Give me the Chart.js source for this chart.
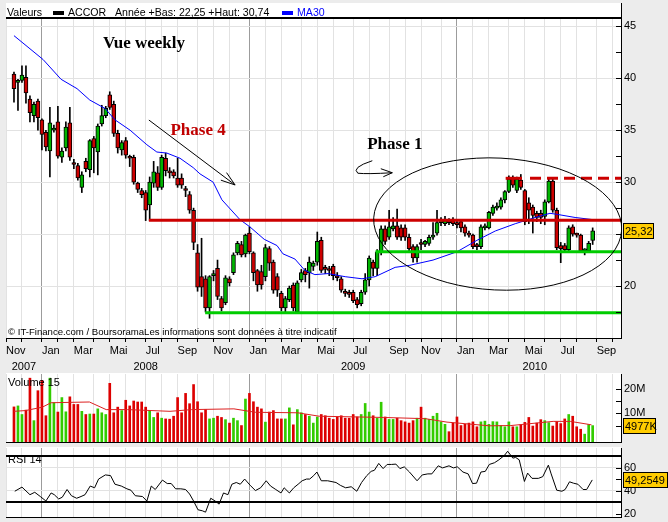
<!DOCTYPE html>
<html lang="fr">
<head>
<meta charset="utf-8">
<title>ACCOR weekly</title>
<script src="https://cdn.jsdelivr.net/npm/chart.js@4.4.1/dist/chart.umd.min.js"></script>
<style>
  html, body { margin: 0; padding: 0; }
  body { width: 668px; height: 522px; background: #ececec; position: relative; overflow: hidden; }
  canvas { position: absolute; left: 0; }
</style>
</head>
<body>
<canvas id="chart-price" width="668" height="372" style="top:0"></canvas>
<canvas id="chart-volume" width="668" height="72" style="top:372px"></canvas>
<canvas id="chart-rsi" width="668" height="78" style="top:444px"></canvas>
<script>
// weekly candles, the first one is the week of 19 Nov 2007
const firstWeek = [2007, 10, 19];

const opens = [
  40.4, 39.6, 39.8, 40.1, 38.0, 36.4, 37.8, 36.0, 34.8, 33.0,
  35.0, 35.8, 32.4, 33.3, 35.7, 31.8, 31.6, 29.5, 32.0, 31.2,
  34.2, 32.9, 35.6, 36.4, 38.4, 37.5, 34.7, 33.1, 34.0, 32.4,
  32.4, 29.9, 29.2, 29.0, 27.8, 29.9, 30.9, 29.5, 32.3, 31.0,
  31.0, 30.4, 30.4, 29.3, 28.8, 27.3, 23.2, 20.9, 20.7, 17.9,
  21.0, 21.7, 18.8, 18.4, 20.7, 21.3, 23.2, 24.0, 23.1, 25.1,
  23.2, 21.5, 21.4, 20.9, 23.6, 22.3, 20.9, 19.3, 17.9, 18.7,
  20.1, 17.5, 20.6, 21.5, 21.3, 21.9, 22.3, 24.4, 21.8, 21.6,
  21.9, 20.9, 20.7, 19.5, 19.3, 19.4, 18.7, 18.3, 19.4, 20.6,
  22.3, 21.7, 23.3, 25.5, 24.7, 25.5, 25.8, 25.6, 25.6, 24.7,
  23.8, 22.7, 24.1, 24.0, 24.1, 24.7, 25.1, 26.1, 26.0, 26.2,
  26.3, 26.1, 26.2, 25.7, 25.1, 24.9, 23.9, 23.8, 25.6, 25.6,
  27.0, 27.5, 27.6, 28.3, 29.1, 30.4, 29.2, 30.2, 29.2, 28.0,
  27.6, 27.0, 27.0, 26.7, 28.1, 30.1, 27.3, 23.9, 23.9, 23.5,
  25.7, 25.0, 24.9, 23.4, 23.4, 24.4
];
const highs = [
  40.6, 39.9, 41.2, 41.2, 38.3, 37.7, 38.0, 36.1, 35.0, 37.2,
  35.5, 37.3, 33.3, 35.8, 37.2, 32.2, 31.8, 31.0, 32.3, 34.1,
  34.4, 35.6, 37.4, 37.3, 38.7, 37.8, 35.0, 34.0, 34.3, 32.6,
  32.6, 30.0, 29.4, 29.2, 30.5, 32.0, 31.5, 32.6, 32.8, 31.4,
  31.2, 32.3, 30.8, 29.6, 29.1, 27.5, 24.0, 24.6, 21.0, 21.0,
  21.5, 22.5, 19.0, 21.0, 20.9, 23.2, 24.3, 24.3, 25.0, 25.7,
  23.3, 21.6, 22.0, 24.0, 23.8, 22.5, 21.2, 19.5, 19.0, 20.0,
  20.3, 20.5, 21.6, 21.7, 22.8, 22.4, 25.2, 24.7, 22.0, 21.9,
  22.1, 21.3, 20.9, 19.7, 19.6, 19.6, 18.9, 19.6, 21.2, 22.9,
  22.5, 23.5, 25.8, 25.8, 27.3, 26.6, 27.4, 25.9, 25.9, 25.0,
  24.0, 24.0, 24.5, 24.4, 24.9, 26.1, 27.3, 26.6, 26.7, 26.5,
  26.6, 26.3, 26.4, 25.9, 25.3, 25.0, 24.1, 25.9, 26.0, 27.2,
  27.8, 28.0, 28.5, 29.2, 30.6, 30.6, 30.5, 30.74, 29.3, 28.5,
  27.8, 27.2, 27.3, 28.3, 30.3, 30.4, 27.5, 24.2, 24.1, 25.8,
  25.9, 25.1, 25.0, 23.6, 24.3, 25.6
];
const lows = [
  37.7, 36.9, 39.6, 37.6, 35.8, 35.8, 35.0, 33.1, 33.0, 30.5,
  34.8, 32.3, 31.9, 33.0, 32.1, 31.3, 30.2, 29.0, 31.0, 30.5,
  30.9, 30.7, 35.4, 36.2, 37.0, 34.4, 32.8, 32.6, 32.3, 31.5,
  29.8, 29.0, 28.5, 26.3, 26.3, 29.5, 29.2, 29.3, 30.6, 30.4,
  30.4, 29.5, 29.4, 28.6, 27.0, 23.5, 19.5, 19.0, 17.5, 16.9,
  20.5, 18.7, 17.6, 18.2, 20.0, 21.1, 23.0, 22.8, 22.8, 23.1,
  20.5, 19.5, 19.7, 20.5, 21.5, 19.3, 19.0, 17.6, 17.5, 18.5,
  17.6, 17.4, 20.4, 20.4, 19.8, 21.5, 22.0, 21.3, 21.2, 21.0,
  20.6, 20.5, 19.4, 19.0, 18.9, 18.4, 17.9, 18.1, 19.2, 20.0,
  21.0, 21.0, 23.0, 24.0, 24.5, 25.3, 24.5, 24.4, 24.4, 23.4,
  22.3, 22.3, 23.5, 23.8, 23.9, 24.5, 24.9, 25.8, 25.8, 25.9,
  25.8, 25.6, 25.2, 24.8, 24.7, 23.6, 23.5, 23.6, 25.4, 25.5,
  26.8, 27.3, 27.4, 28.0, 29.0, 29.5, 29.0, 29.3, 25.9, 26.0,
  25.1, 26.2, 26.0, 25.9, 28.0, 27.1, 23.5, 22.25, 23.3, 23.3,
  24.8, 24.7, 23.3, 23.0, 23.3, 24.0
];
const closes = [
  39.0, 39.7, 40.3, 38.6, 36.7, 37.5, 36.2, 34.6, 33.4, 35.7,
  35.2, 32.5, 33.0, 35.3, 32.4, 31.7, 30.4, 30.7, 31.3, 34.0,
  33.3, 35.4, 36.4, 37.1, 37.2, 34.7, 33.3, 33.8, 32.6, 32.3,
  30.0, 29.3, 28.8, 27.3, 30.0, 31.0, 29.5, 32.4, 31.1, 30.9,
  30.6, 29.7, 29.7, 29.2, 27.3, 24.2, 19.9, 19.9, 17.9, 20.9,
  21.2, 19.0, 17.9, 20.8, 20.3, 23.0, 24.1, 23.0, 24.9, 23.3,
  21.3, 20.1, 20.1, 23.7, 22.2, 19.6, 19.6, 17.9, 18.8, 19.8,
  17.9, 20.3, 21.3, 21.1, 22.3, 22.2, 24.3, 21.5, 21.6, 21.5,
  21.0, 20.8, 19.6, 19.3, 19.2, 18.6, 18.2, 19.4, 20.6, 22.7,
  21.7, 23.3, 25.5, 24.3, 25.7, 25.8, 24.7, 24.7, 24.7, 23.6,
  22.7, 23.8, 24.0, 24.3, 24.7, 24.9, 26.1, 26.3, 26.3, 26.1,
  26.0, 25.9, 25.6, 25.1, 24.9, 23.8, 23.8, 25.7, 25.8, 27.1,
  27.6, 27.7, 28.3, 29.1, 30.3, 29.7, 30.3, 29.5, 26.2, 27.3,
  26.8, 26.6, 26.6, 28.1, 30.1, 27.3, 23.7, 23.6, 23.5, 25.6,
  25.0, 24.9, 23.4, 23.4, 24.1, 25.32
];
// weekly volume, millions of shares
const volumes = [
  12.6, 13.0, 9.5, 11.3, 24.3, 7.0, 19.2, 23.4, 9.0, 24.3,
  14.3, 10.5, 16.4, 10.6, 16.7, 13.6, 13.6, 10.8, 9.5, 9.7,
  9.7, 11.8, 10.2, 9.5, 22.2, 10.2, 12.5, 11.1, 15.3, 13.0,
  15.0, 14.6, 14.6, 12.5, 11.1, 8.3, 10.2, 8.0, 7.7, 7.6,
  8.8, 16.4, 10.2, 18.1, 13.9, 21.7, 14.7, 10.2, 11.5, 7.7,
  8.0, 8.8, 8.3, 7.4, 6.0, 8.0, 7.0, 5.0, 15.8, 18.1,
  14.7, 12.5, 11.8, 6.4, 10.5, 11.1, 7.7, 7.7, 7.7, 12.2,
  5.3, 11.5, 10.2, 9.5, 8.8, 6.0, 8.5, 9.5, 9.0, 8.0,
  7.5, 8.5, 9.0, 8.0, 8.0, 9.5, 8.5, 9.5, 14.0, 10.5,
  9.0, 8.0, 14.5, 8.5, 7.5, 7.5, 8.0, 7.0, 6.5, 6.0,
  7.0, 8.0, 12.5, 8.0, 7.5, 8.8, 10.0, 6.5, 5.5, 2.5,
  6.0, 8.5, 5.0, 5.5, 6.0, 6.5, 4.5, 6.5, 6.8, 5.5,
  6.6, 6.5, 5.0, 4.5, 6.5, 4.5, 4.5, 5.3, 6.3, 8.3,
  4.8, 6.0, 7.4, 7.0, 6.2, 4.8, 6.6, 5.8, 7.7, 9.5,
  8.8, 4.5, 3.5, 1.5, 5.4, 4.977
];
// [week, value]
const ma30 = [
  [0, 44.1], [7.3, 41.8], [11.8, 39.9], [15.8, 39.0], [19.0, 37.9], [22.8, 37.1],
  [25.3, 36.0], [29.1, 35.0], [33.3, 33.6], [35.8, 32.9], [38.3, 32.8], [41.6, 32.3],
  [44.9, 31.4], [46.6, 30.8], [49.9, 30.0], [52.1, 28.3], [56.6, 26.4], [59.1, 25.7],
  [62.7, 24.5], [65.9, 23.9], [67.4, 23.1], [70.4, 22.6], [72.9, 21.5], [75.4, 21.1],
  [78.7, 21.2], [83.0, 20.9], [87.2, 20.7], [90.5, 20.9], [95.5, 21.8], [99.2, 22.0],
  [105.0, 22.5], [111.0, 23.3], [116.0, 24.4], [120.6, 25.3], [125.6, 26.0], [130.6, 26.6],
  [134.3, 27.0], [136.1, 26.9], [140.6, 26.6], [144.9, 26.4]
];
// [week, value] (15)
const volMa15 = [
  [0, 10.8], [2.9, 11.1], [7.1, 12.5], [9.3, 14.3], [18.9, 14.6], [23.1, 11.5],
  [28.5, 11.5], [39.1, 10.8], [44.5, 11.5], [55.1, 11.8], [60.5, 10.4], [71.1, 10.2],
  [76.5, 8.8], [92.5, 8.3], [103.1, 7.8], [108.5, 6.4], [119.1, 4.9], [124.5, 5.0],
  [135.1, 6.7], [139.4, 6.7], [144.7, 5.3]
];
// [week, value]
const rsi14 = [
  [0.2, 39.4], [2.0, 43.0], [4.0, 36.4], [5.2, 38.5], [6.6, 34.8], [8.0, 30.9], [9.3, 37.9],
  [10.1, 36.4], [11.2, 32.7], [12.1, 34.2], [13.3, 40.9], [14.4, 35.5], [15.7, 33.3],
  [16.8, 34.8], [17.8, 36.4], [19.1, 43.9], [20.2, 42.4], [21.2, 50.0], [22.9, 53.6],
  [24.2, 53.0], [25.3, 45.5], [26.9, 43.9], [28.3, 41.5], [29.3, 40.3], [30.4, 35.5],
  [32.2, 34.8], [33.3, 30.9], [34.4, 43.9], [35.4, 40.9], [37.2, 49.1], [38.4, 46.1],
  [39.4, 46.1], [40.5, 41.5], [41.8, 41.5], [43.0, 40.9], [44.0, 37.0], [45.0, 30.9],
  [46.1, 23.3], [47.2, 22.4], [48.0, 21.2], [49.3, 33.3], [50.4, 30.9], [51.4, 28.2],
  [52.5, 37.9], [53.6, 36.4], [54.6, 45.5], [55.7, 47.0], [56.7, 45.5], [57.8, 50.0],
  [59.2, 44.5], [60.5, 40.0], [61.8, 42.4], [63.2, 48.5], [64.3, 43.9], [65.6, 40.9],
  [66.9, 37.9], [67.7, 42.4], [69.0, 37.9], [70.1, 42.4], [71.2, 45.5], [72.2, 48.5],
  [73.3, 50.0], [74.1, 50.0], [75.1, 53.0], [75.9, 56.1], [77.0, 48.5], [78.6, 48.5],
  [80.7, 47.0], [81.8, 44.5], [83.1, 42.4], [84.5, 43.3], [85.9, 39.4], [87.1, 47.0],
  [88.4, 53.0], [89.5, 56.7], [90.3, 57.6], [91.4, 63.6], [92.5, 59.1], [93.5, 62.7],
  [94.6, 62.7], [95.7, 63.0], [96.7, 59.1], [97.8, 60.6], [99.1, 56.1], [101.0, 48.5],
  [102.3, 53.6], [103.7, 54.5], [104.7, 54.5], [106.3, 61.5], [107.4, 59.7], [109.0, 61.5],
  [110.1, 59.7], [111.1, 60.6], [112.5, 56.1], [113.8, 54.5], [114.9, 46.1], [115.9, 46.4],
  [117.0, 56.1], [118.1, 56.7], [119.1, 62.7], [120.4, 64.2], [121.5, 66.7], [122.9, 70.6],
  [123.7, 74.2], [125.0, 68.2], [125.7, 68.8], [126.6, 66.7], [127.9, 47.9], [128.7, 55.2],
  [129.8, 50.6], [131.4, 50.6], [132.5, 52.1], [133.9, 62.1], [134.6, 54.5], [136.0, 40.3],
  [137.3, 39.4], [138.1, 40.9], [139.2, 47.6], [140.2, 46.4], [141.3, 45.5], [142.6, 40.9],
  [143.5, 40.9], [144.9, 49.2549]
];
// hand-drawn levels: price, first week, last week (null = to the right edge)
const levelPrice = [26.33, 23.31, 17.44, 30.37, 30.37];
const levelFrom = [33.8, 90.6, 47.9, 123.2, 129.3];
const levelTo = [null, null, null, 127.3, null];
const yearLow = 22.25, yearHigh = 30.74;
const monthNames = ['Jan', 'Fév', 'Mar', 'Avr', 'Mai', 'Juin', 'Jul', 'Aoû', 'Sep', 'Oct', 'Nov', 'Déc'];
const priceTicks = [17.5, 20, 22.5, 25, 27.5, 30, 32.5, 35, 37.5, 40, 42.5, 45];
const volumeTicks = [5, 10, 15, 20];
const rsiTicks = [20, 30, 40, 50, 60, 70];

// ---- setup ----
const FONT = "'Liberation Sans', Arial, sans-serif";
const SERIF = "'Liberation Serif', 'DejaVu Serif', serif";
Chart.defaults.font.family = FONT;
Chart.defaults.font.size = 11;
Chart.defaults.color = '#000';

const RED = '#cc0000', GREEN = '#00b400', LINE_GREEN = '#00cc00', BLUE = '#0000ff';
const GRID = '#e2e2e2', GRID_JAN = '#9c9c9c', TAG = '#ffcc00';
const xMin = -2, xMax = 152.1;
const volMin = -1.7, volMax = 26;

const weeks = closes.map((_, i) => i);
const up = closes.map((c, i) => c >= opens[i]);

const monthTicks = [];
for (let i = Math.ceil(xMin); i <= xMax; i++) {
  const d = new Date(firstWeek[0], firstWeek[1], firstWeek[2] + 7 * i);
  if (d.getDate() <= 7) monthTicks.push({ i, m: d.getMonth(), y: d.getFullYear() });
}
const yearTicks = [];
monthTicks.forEach((t, k) => {
  if (k === 0 || t.m === 0) yearTicks.push({ label: String(t.y), from: t.i });
});
yearTicks.forEach((t, k) => {
  const to = k + 1 < yearTicks.length ? yearTicks[k + 1].from : monthTicks[monthTicks.length - 1].i;
  t.at = (t.from + to) / 2;
});

const fr = (v, d) => v.toFixed(d).replace('.', ',');

function xAxis(withLabels) {
  return {
    type: 'linear', min: xMin, max: xMax, offset: false,
    afterBuildTicks: s => { s.ticks = monthTicks.map(t => ({ value: t.i })); },
    afterFit: s => { s.height = withLabels ? 20 : 0; s.paddingLeft = 0; s.paddingRight = 0; },
    ticks: {
      display: withLabels, autoSkip: false, maxRotation: 0, align: 'start', padding: 2,
      callback: (v, k) => monthTicks[k].m % 2 === 0 ? monthNames[monthTicks[k].m] : ''
    },
    grid: {
      offset: false, tickColor: '#000', tickLength: 4, drawTicks: withLabels,
      color: c => (monthTicks[c.index] && monthTicks[c.index].m === 0 ? GRID_JAN : GRID)
    },
    border: { display: true, color: '#000' }
  };
}

function yAxis(min, max, ticks, label, gridColor, gridWidth) {
  return {
    position: 'right', min, max, beginAtZero: false,
    afterBuildTicks: s => { s.ticks = ticks.map(v => ({ value: v })); },
    afterFit: s => { s.width = 47; s.paddingTop = 0; s.paddingBottom = 0; },
    ticks: { autoSkip: false, padding: 3, callback: label },
    grid: { drawTicks: false, color: gridColor, lineWidth: gridWidth || 1 },
    border: { display: true, color: '#000' }
  };
}

function whitePanel(top) {
  return {
    id: 'whitePanel',
    beforeDraw(chart) {
      const { ctx, chartArea: a } = chart;
      ctx.save();
      ctx.fillStyle = '#fff';
      ctx.fillRect(a.left, top, a.right - a.left, a.bottom - top);
      ctx.restore();
    }
  };
}

function sideMarks(tagText, tagValue, tagWidth, title, titleY) {
  return {
    id: 'sideMarks',
    afterDraw(chart) {
      const { ctx, chartArea: a, scales: { y } } = chart;
      ctx.save();
      ctx.strokeStyle = '#000';
      ctx.lineWidth = 1;
      y.ticks.forEach(t => {
        const py = Math.round(y.getPixelForValue(t.value)) + 0.5;
        ctx.beginPath();
        ctx.moveTo(a.right - 5, py);
        ctx.lineTo(a.right, py);
        ctx.stroke();
      });
      if (title) {
        ctx.fillStyle = '#000';
        ctx.font = '11px ' + FONT;
        ctx.textBaseline = 'middle';
        ctx.fillText(title, a.left + 2, titleY);
      }
      const py = Math.round(y.getPixelForValue(tagValue));
      ctx.fillStyle = TAG;
      ctx.fillRect(a.right + 2, py - 8, tagWidth, 16);
      ctx.strokeRect(a.right + 2.5, py - 7.5, tagWidth - 1, 15);
      ctx.fillStyle = '#000';
      ctx.font = '11px ' + FONT;
      ctx.textBaseline = 'middle';
      ctx.fillText(tagText, a.right + 4, py + 1);
      ctx.restore();
    }
  };
}

function arrowHead(ctx, x0, y0, x1, y1, len, spread) {
  const ang = Math.atan2(y1 - y0, x1 - x0);
  ctx.moveTo(x1 - len * Math.cos(ang - spread), y1 - len * Math.sin(ang - spread));
  ctx.lineTo(x1, y1);
  ctx.lineTo(x1 - len * Math.cos(ang + spread), y1 - len * Math.sin(ang + spread));
}

// drawings placed on the chart in data units (week, price)
const priceNotes = {
  id: 'priceNotes',
  beforeDraw(chart) {
    const { ctx, chartArea: a } = chart;
    ctx.save();
    ctx.fillStyle = '#fff';
    ctx.fillRect(a.left, 3, a.right - a.left, a.bottom - 3);
    ctx.restore();
  },
  afterDatasetsDraw(chart) {
    const { ctx, chartArea: a, scales: { x, y } } = chart;
    const px = v => x.getPixelForValue(v), py = v => y.getPixelForValue(v);
    ctx.save();
    ctx.beginPath();
    ctx.rect(a.left, a.top, a.right - a.left, a.bottom - a.top);
    ctx.clip();
    ctx.strokeStyle = '#000';
    ctx.lineWidth = 1;
    // consolidation ellipse
    ctx.beginPath();
    ctx.ellipse(px(121.2), py(25.97), px(31.1) - px(0), py(0) - py(6.35), 0.05, 0, Math.PI * 2);
    ctx.stroke();
    // down-trend arrow
    const ax0 = px(33.8), ay0 = py(35.98), ax1 = px(55.4), ay1 = py(29.73);
    ctx.beginPath();
    ctx.moveTo(ax0, ay0);
    ctx.lineTo(ax1, ay1);
    arrowHead(ctx, ax0, ay0, ax1, ay1, 15, 0.32);
    ctx.stroke();
    // sideways squiggle
    const sx = px(85.9), sy = py(31.1);
    ctx.beginPath();
    ctx.moveTo(sx + 15.5, sy - 10);
    ctx.quadraticCurveTo(sx - 6, sy - 3, sx + 1, sy + 2.5);
    ctx.quadraticCurveTo(sx + 10, sy + 3.5, sx + 35.5, sy + 2);
    ctx.moveTo(sx + 24, sy - 2);
    ctx.lineTo(sx + 35.5, sy + 2);
    ctx.lineTo(sx + 26.5, sy + 6);
    ctx.stroke();
    // labels
    ctx.font = 'bold 17px ' + SERIF;
    ctx.textBaseline = 'alphabetic';
    ctx.fillStyle = '#000';
    ctx.fillText('Vue weekly', px(22.3), py(42.91));
    ctx.fillText('Phase 1', px(88.5), py(33.19));
    ctx.fillStyle = '#c00000';
    ctx.fillText('Phase 4', px(39.2), py(34.54));
    ctx.fillStyle = '#000';
    ctx.font = '9.6px ' + FONT;
    ctx.fillText('© IT-Finance.com / BoursoramaLes informations sont données à titre indicatif', a.left + 2, a.bottom - 3);
    ctx.restore();
  },
  afterDraw(chart) {
    const { ctx, chartArea: a } = chart;
    ctx.save();
    ctx.fillStyle = '#000';
    ctx.fillRect(a.left, a.top - 1, a.right - a.left, 2);
    ctx.fillRect(Math.round(a.right), 3, 1, a.top - 3);
    // legend line
    ctx.font = '10.6px ' + FONT;
    ctx.textBaseline = 'alphabetic';
    ctx.fillText('Valeurs', 7, 16);
    ctx.fillRect(53, 11, 11, 4);
    ctx.fillText('ACCOR', 68, 16);
    ctx.fillText('Année +Bas: ' + fr(yearLow, 2) + ' +Haut: ' + fr(yearHigh, 2), 115, 16);
    ctx.fillStyle = BLUE;
    ctx.fillRect(282, 11, 11, 4);
    ctx.fillText('MA30', 297, 16);
    ctx.restore();
  }
};

const price = new Chart(document.getElementById('chart-price'), {
  type: 'bar',
  data: {
    datasets: [
      ...levelPrice.map((p, k) => ({
        type: 'line', order: 0,
        data: [{ x: levelFrom[k], y: p }, { x: levelTo[k] === null ? xMax : levelTo[k], y: p }],
        borderColor: k === 1 || k === 2 ? LINE_GREEN : RED,
        borderWidth: 3, borderDash: k === 4 ? [11, 6] : [], pointRadius: 0
      })),
      {
        type: 'line', order: 1,
        data: ma30.map(([w, v]) => ({ x: w, y: v })),
        borderColor: BLUE, borderWidth: 1, pointRadius: 0, tension: 0
      },
      {
        order: 2, grouped: false, barThickness: 4, minBarLength: 2,
        data: weeks.map(i => ({ x: i, y: [opens[i], closes[i]] })),
        backgroundColor: weeks.map(i => (up[i] ? GREEN : RED)),
        borderColor: '#000', borderWidth: 1, borderSkipped: false
      },
      {
        order: 3, grouped: false, barThickness: 1,
        data: weeks.map(i => ({ x: i, y: [lows[i], highs[i]] })),
        backgroundColor: '#000'
      }
    ]
  },
  options: {
    responsive: false, animation: false, devicePixelRatio: 1, events: [],
    layout: { padding: { left: 6, top: 18, right: 0, bottom: 0 } },
    plugins: { legend: { display: false }, tooltip: { enabled: false } },
    scales: {
      x: xAxis(true),
      xYear: {
        type: 'linear', position: 'bottom', weight: 1, min: xMin, max: xMax, offset: false,
        afterBuildTicks: s => { s.ticks = yearTicks.map(t => ({ value: t.at })); },
        afterFit: s => { s.height = 14; s.paddingLeft = 0; s.paddingRight = 0; },
        ticks: { autoSkip: false, maxRotation: 0, padding: 2, callback: (v, k) => yearTicks[k].label },
        grid: { display: false, drawTicks: false },
        border: { display: false }
      },
      y: yAxis(15, 45.8, priceTicks, v => (v % 5 === 0 ? String(v) : ''),
        c => (c.tick && c.tick.value % 5 === 0 ? GRID : 'rgba(0,0,0,0)'))
    }
  },
  plugins: [priceNotes, sideMarks(fr(closes[closes.length - 1], 2), closes[closes.length - 1], 31)]
});

const volume = new Chart(document.getElementById('chart-volume'), {
  type: 'bar',
  data: {
    datasets: [
      {
        type: 'line', order: 0,
        data: volMa15.map(([w, v]) => ({ x: w, y: v })),
        borderColor: '#dd2020', borderWidth: 1, pointRadius: 0, tension: 0
      },
      {
        order: 1, grouped: false, barThickness: 2,
        data: weeks.map(i => ({ x: i, y: [volMin, volumes[i]] })),
        backgroundColor: weeks.map(i => (up[i] ? '#33cc00' : '#dd0000'))
      }
    ]
  },
  options: {
    responsive: false, animation: false, devicePixelRatio: 1, events: [],
    layout: { padding: { left: 6, top: 2, right: 0, bottom: 2 } },
    plugins: { legend: { display: false }, tooltip: { enabled: false } },
    scales: {
      x: xAxis(false),
      y: yAxis(volMin, volMax, volumeTicks, v => (v % 10 === 0 ? v + 'M' : ''), () => 'rgba(0,0,0,0)')
    }
  },
  plugins: [whitePanel(1),
    sideMarks(Math.round(volumes[volumes.length - 1] * 1000) + 'K', volumes[volumes.length - 1], 33, 'Volume 15', 11)]
});

const rsiLast = rsi14[rsi14.length - 1][1];
const rsi = new Chart(document.getElementById('chart-rsi'), {
  type: 'line',
  data: {
    datasets: [{
      data: rsi14.map(([w, v]) => ({ x: w, y: v })),
      borderColor: '#000', borderWidth: 1, pointRadius: 0, tension: 0
    }]
  },
  options: {
    responsive: false, animation: false, devicePixelRatio: 1, events: [],
    layout: { padding: { left: 6, top: 4, right: 0, bottom: 5 } },
    plugins: { legend: { display: false }, tooltip: { enabled: false } },
    scales: {
      x: xAxis(false),
      y: yAxis(17, 77, rsiTicks, v => (v % 20 === 0 ? String(v) : ''),
        c => {
          const v = c.tick && c.tick.value;
          if (v === 30 || v === 70) return '#000';
          return v === 40 || v === 60 ? GRID : 'rgba(0,0,0,0)';
        },
        c => (c.tick && (c.tick.value === 30 || c.tick.value === 70) ? 2 : 1))
    }
  },
  plugins: [whitePanel(3), sideMarks(fr(rsiLast, 4), rsiLast, 45, 'RSI 14', 16)]
});
</script>
</body>
</html>
